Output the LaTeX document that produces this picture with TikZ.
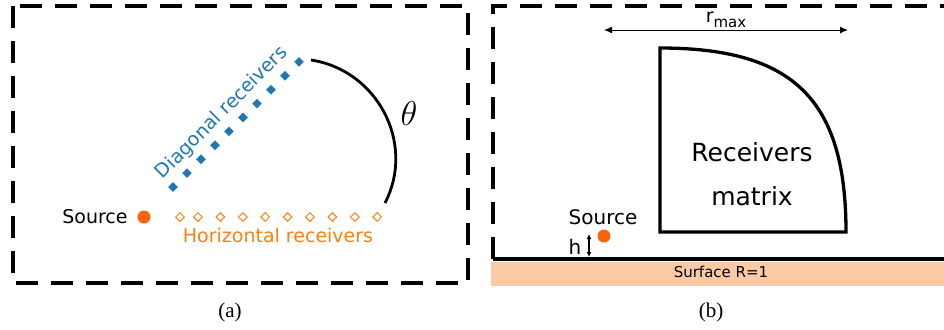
\documentclass[tikz,border=0pt]{standalone}
\usepackage{fontspec}
\setmainfont{DejaVu Sans}
\newfontfamily\capfont{Liberation Serif}
\usetikzlibrary{shapes.geometric,arrows.meta}
\definecolor{tabblue}{RGB}{31, 119, 180}
\definecolor{taborange}{RGB}{255, 127, 14}
\definecolor{srcorange}{RGB}{250, 100, 10}
\definecolor{peach}{RGB}{252, 203, 165}

\tikzset{
  frame/.style={line width=2pt, dash pattern=on 11pt off 6.5pt},
  diagrx/.style={diamond, fill=tabblue, inner sep=0pt, minimum size=5pt},
  horizrx/.style={diamond, draw=taborange, line width=0.5pt, inner sep=0pt, minimum size=4.5pt},
  srcdot/.style={circle, fill=srcorange, inner sep=0pt, minimum size=6.5pt},
  lbl/.style={inner sep=0pt, font=\fontsize{9.5}{11}\selectfont},
  caplbl/.style={inner sep=0pt, font=\capfont\fontsize{10.5}{12}\selectfont},
  dimarrow/.style={{Latex[length=4pt,width=3.5pt]}-{Latex[length=4pt,width=3.5pt]}, line width=0.5pt}
}

\begin{document}
\begin{tikzpicture}[x=0.5pt, y=-0.5pt]
            \useasboundingbox                                          (0, 0) rectangle (944, 329);
            \draw[frame]                                               (13, 6) rectangle (468, 283);
            \node[srcdot]                                   (srcA)     at (144, 217) {};
            \node[lbl, anchor=east]                         (srcAlbl)  at (128, 217) {Source};
            \node[horizrx]                                  (hrx0)     at (180, 217) {};
            \foreach \i in {1,...,9}
                \node[horizrx]                              (hrx\i)    at ({198+22.4*(\i-1)}, 217) {};
            \node[lbl, text=taborange]                      (hrxlbl)   at (278, 235) {Horizontal receivers};
            \foreach \i in {0,...,9}
                \node[diagrx]                               (drx\i)    at ({173+14*\i}, {187-13.9*\i}) {};
            \node[lbl, text=tabblue, rotate=45]             (drxlbl)   at (222, 113) {Diagonal receivers};
            \coordinate                                     (thetaA)   at (311, 60);
            \coordinate                                     (thetaB)   at (385, 203);
            \draw[line width=1.4pt] (thetaA) .. controls (377, 70) and (416, 143) .. (thetaB);
            \node[inner sep=0pt]                            (theta)    at (409, 113) {\fontsize{17}{20}\selectfont$\theta$};
            \node[caplbl]                                   (capA)     at (230, 312) {(a)};

            \fill[peach]                                               (491, 262) rectangle (944, 286);
            \draw[line width=2pt]                                      (493, 259) -- (944, 259);
            \draw[frame]                                               (493, 259) -- (493, 6) -- (944, 6);
            \draw[line width=1.65pt]                                   (660, 232) -- (660, 48) .. controls (794, 48) and (846, 100) .. (846, 232) -- cycle;
            \node[align=center, font=\fontsize{12.5}{22}\selectfont] (rxlbl) at (752, 174) {Receivers\\matrix};
            \coordinate                                     (rmaxL)    at (604, 30);
            \coordinate                                     (rmaxR)    at (848, 30);
            \draw[dimarrow] (rmaxL) -- (rmaxR);
            \node[lbl]                                      (rmaxlbl)  at (726, 20) {r\raisebox{-0.45ex}{\fontsize{7.5}{8}\selectfont max}};
            \node[srcdot]                                   (srcB)     at (604, 236) {};
            \node[lbl, font=\fontsize{10}{12}\selectfont]   (srcBlbl)  at (603, 217) {Source};
            \coordinate                                     (hTop)     at (589, 234);
            \coordinate                                     (hBot)     at (589, 257);
            \draw[{Latex[length=2.5pt,width=2.5pt]}-{Latex[length=2.5pt,width=2.5pt]}, line width=0.6pt] (hTop) -- (hBot);
            \node[lbl, font=\fontsize{10}{12}\selectfont]   (hlbl)     at (575, 247) {h};
            \node[lbl, font=\fontsize{7.5}{9}\selectfont]   (surflbl)  at (721, 272) {Surface R=1};
            \node[caplbl]                                   (capB)     at (711, 312) {(b)};
        \end{tikzpicture}
\end{document}
